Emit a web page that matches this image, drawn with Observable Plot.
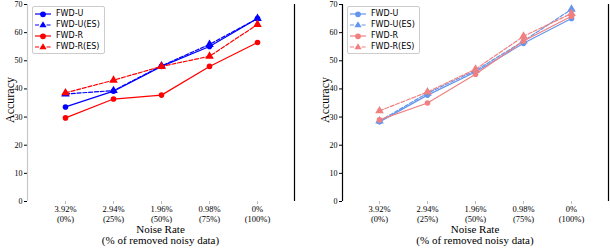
<!DOCTYPE html>
<html><head><meta charset="utf-8">
<script src="https://cdn.jsdelivr.net/npm/d3@7"></script>
<script src="https://cdn.jsdelivr.net/npm/@observablehq/plot@0.6"></script>
<style>
body{margin:0;background:#fff;}
#wrap{position:relative;width:610px;height:248px;overflow:hidden;}
.panel{position:absolute;top:0;}
.legend{position:absolute;background:#fff;border:1px solid #ccc;border-radius:2px;padding:1px 4px 1px 1px;font-family:"DejaVu Sans",sans-serif;font-size:8px;line-height:11px;}
.legend div{display:flex;align-items:center;height:11px;}
.legend svg{margin-right:4px;}
.lab{position:absolute;font-family:"Liberation Serif",serif;font-size:11px;color:#000;white-space:nowrap;text-align:center;}
</style></head>
<body><div id="wrap"></div>
<script>
const leftCategories = ["3.92%\n(0%)", "2.94%\n(25%)", "1.96%\n(50%)", "0.98%\n(75%)", "0%\n(100%)"];
const rightCategories = ["3.92%\n(0%)", "2.94%\n(25%)", "1.96%\n(50%)", "0.98%\n(75%)", "0%\n(100%)"];
const seriesNames = ["FWD-U", "FWD-U(ES)", "FWD-R", "FWD-R(ES)"];
const yTicks = [0, 10, 20, 30, 40, 50, 60, 70];

const leftU   = [33.6, 39.2, 48.0, 55.1, 65.0];
const leftUES = [38.2, 39.4, 48.2, 55.8, 65.0];
const leftR   = [29.7, 36.4, 37.8, 48.0, 56.5];
const leftRES = [38.6, 43.1, 48.0, 51.6, 62.9];

const rightU   = [28.3, 37.8, 46.0, 56.2, 65.0];
const rightUES = [28.6, 38.5, 46.5, 57.0, 68.3];
const rightR   = [29.0, 35.0, 45.2, 57.0, 65.8];
const rightRES = [32.2, 38.9, 47.0, 58.7, 66.8];

const styles = [
  {dash: null, symbol: "circle"},
  {dash: "4,1.8", symbol: "triangle"},
  {dash: null, symbol: "circle"},
  {dash: "4,1.8", symbol: "triangle"}
];

const MT = 4;

function makePanel({cats, series, colors, width, ml, mr, left, axisColor, legendLeft}) {
  const wrap = document.getElementById("wrap");
  const marks = [];
  marks.push(Plot.axisY({ticks: yTicks, tickSize: 3, tickPadding: 2, stroke: "#000", fontSize: 8, label: null}));
  marks.push(Plot.axisX({tickSize: 3, stroke: "#bbb", tickFormat: () => "", label: null}));
  marks.push(Plot.axisX({tickSize: 0, tickPadding: 4, lineHeight: 1.15, label: null}));
  series.forEach((vals, k) => {
    const data = cats.map((c, i) => ({c, v: vals[i]}));
    marks.push(Plot.line(data, {x: "c", y: "v", stroke: colors[k], strokeWidth: 1.2, strokeDasharray: styles[k].dash}));
    marks.push(Plot.dot(data, {x: "c", y: "v", fill: colors[k], stroke: "none", symbol: styles[k].symbol, r: styles[k].symbol === "circle" ? 2.8 : 3.2}));
  });
  const p = Plot.plot({
    width, height: 248, marginLeft: ml, marginRight: mr, marginTop: MT, marginBottom: 47,
    style: {fontFamily: "Liberation Serif, serif", fontSize: "8.5px", background: "transparent", color: "#000", overflow: "visible"},
    x: {type: "point", domain: cats, inset: 12.5, label: null, axis: null},
    y: {domain: [0, 70], label: null, axis: null},
    marks
  });
  p.classList.add("panel");
  p.style.left = left + "px";
  wrap.appendChild(p);
  const svg = d3.select(p);
  svg.append("line").attr("x1", ml + 0.5).attr("x2", ml + 0.5).attr("y1", MT).attr("y2", 201).attr("stroke", axisColor).attr("stroke-width", 1.2);
  svg.append("line").attr("x1", width - mr + 0.5).attr("x2", width - mr + 0.5).attr("y1", MT).attr("y2", 201).attr("stroke", "#000").attr("stroke-width", 1.2);

  // legend
  const lg = document.createElement("div");
  lg.className = "legend";
  lg.style.left = (left + legendLeft) + "px";
  lg.style.top = "6px";
  seriesNames.forEach((name, k) => {
    const row = document.createElement("div");
    const s = d3.create("svg").attr("width", 18).attr("height", 8);
    s.append("line").attr("x1", 1).attr("x2", 17).attr("y1", 4).attr("y2", 4).attr("stroke", colors[k]).attr("stroke-width", 1.2).attr("stroke-dasharray", styles[k].dash);
    const sym = styles[k].symbol === "circle" ? d3.symbolCircle : d3.symbolTriangle;
    s.append("path").attr("d", d3.symbol(sym, styles[k].symbol === "circle" ? 26 : 22)()).attr("transform", "translate(9,4.3)").attr("fill", colors[k]);
    row.appendChild(s.node());
    const t = document.createElement("span");
    t.textContent = name;
    row.appendChild(t);
    lg.appendChild(row);
  });
  wrap.appendChild(lg);

  // axis labels
  const cx = left + (ml + width - mr) / 2;
  const yl = document.createElement("div");
  yl.className = "lab";
  yl.textContent = "Accuracy";
  yl.style.fontSize = "12px";
  yl.style.left = (left + ml - 17 - 60) + "px";
  yl.style.width = "120px";
  yl.style.top = (100 - 7) + "px";
  yl.style.transform = "rotate(-90deg)";
  yl.style.transformOrigin = "60px 7px";
  wrap.appendChild(yl);
  const xl = document.createElement("div");
  xl.className = "lab";
  xl.innerHTML = "Noise Rate<br>(% of removed noisy data)";
  xl.style.lineHeight = "11px";
  xl.style.left = (cx - 100) + "px";
  xl.style.width = "200px";
  xl.style.top = "224px";
  wrap.appendChild(xl);
}

makePanel({cats: leftCategories, series: [leftU, leftUES, leftR, leftRES], colors: ["#0000ff", "#0000ff", "#ff0000", "#ff0000"],
  width: 300, ml: 27, mr: 6, left: 0, axisColor: "#c8c8c8", legendLeft: 32});
makePanel({cats: rightCategories, series: [rightU, rightUES, rightR, rightRES], colors: ["#6495ed", "#6495ed", "#f08080", "#f08080"],
  width: 310, ml: 42, mr: 2, left: 300, axisColor: "#000", legendLeft: 47});
</script></body></html>
